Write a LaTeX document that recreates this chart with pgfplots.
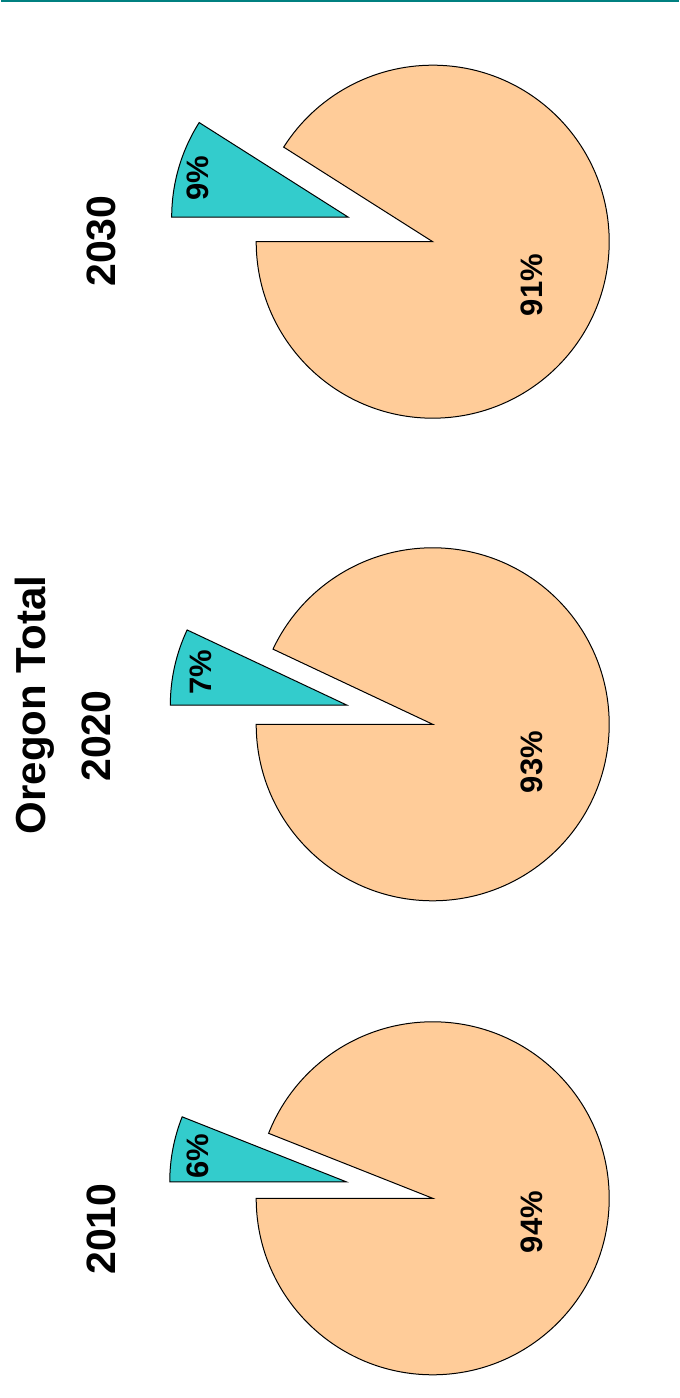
\documentclass[border=0pt]{standalone}
\usepackage{fontspec}
\setmainfont{Liberation Sans}
\usepackage{pgfplots}
\pgfplotsset{compat=1.18}
\definecolor{pieorange}{RGB}{255,204,153}
\definecolor{pieteal}{RGB}{51,204,204}
\definecolor{topline}{RGB}{0,128,128}
\begin{document}
\begin{tikzpicture}
\begin{axis}[x=0.5pt, y=0.5pt, xmin=0, xmax=678, ymin=0, ymax=1398,
  hide axis, clip=false]
\path (axis cs:0,0) rectangle (axis cs:678,1398);
\draw[topline, line width=1pt] (axis cs:0,1397) -- (axis cs:678,1397);
% 2010: 6% / 94%
\draw[fill=pieorange, line width=0.5pt] (axis cs:431.7,199.7) -- ++(180:88.25pt)
  arc[start angle=180, end angle={180+3.6*94}, radius=88.25pt] -- cycle;
\draw[fill=pieteal, line width=0.5pt] (axis cs:431.7,199.7) ++({180-1.8*6}:44pt) coordinate (a1)
  -- ++(180:88.25pt) arc[start angle=180, end angle={180-3.6*6}, radius=88.25pt] -- cycle;
% 2020: 7% / 93%
\draw[fill=pieorange, line width=0.5pt] (axis cs:431.7,673.7) -- ++(180:88.25pt)
  arc[start angle=180, end angle={180+3.6*93}, radius=88.25pt] -- cycle;
\draw[fill=pieteal, line width=0.5pt] (axis cs:431.7,673.7) ++({180-1.8*7}:44pt)
  -- ++(180:88.25pt) arc[start angle=180, end angle={180-3.6*7}, radius=88.25pt] -- cycle;
% 2030: 9% / 91%
\draw[fill=pieorange, line width=0.5pt] (axis cs:431.7,1156.3) -- ++(180:88.25pt)
  arc[start angle=180, end angle={180+3.6*91}, radius=88.25pt] -- cycle;
\draw[fill=pieteal, line width=0.5pt] (axis cs:431.7,1156.3) ++({180-1.8*9}:44pt)
  -- ++(180:88.25pt) arc[start angle=180, end angle={180-3.6*9}, radius=88.25pt] -- cycle;
% percent labels
\node[rotate=90, font=\fontsize{15.5}{18}\selectfont\bfseries] at (axis cs:197,242) {6\%};
\node[rotate=90, font=\fontsize{15.5}{18}\selectfont\bfseries] at (axis cs:531,176) {94\%};
\node[rotate=90, font=\fontsize{15.5}{18}\selectfont\bfseries] at (axis cs:200,726) {7\%};
\node[rotate=90, font=\fontsize{15.5}{18}\selectfont\bfseries] at (axis cs:531,636) {93\%};
\node[rotate=90, font=\fontsize{15.5}{18}\selectfont\bfseries] at (axis cs:197,1220) {9\%};
\node[rotate=90, font=\fontsize{15.5}{18}\selectfont\bfseries] at (axis cs:531,1113) {91\%};
% titles
\node[rotate=90, font=\fontsize{20.5}{24}\selectfont\bfseries] at (axis cs:100,169) {2010};
\node[rotate=90, font=\fontsize{20.5}{24}\selectfont\bfseries] at (axis cs:95,662) {2020};
\node[rotate=90, font=\fontsize{20.5}{24}\selectfont\bfseries] at (axis cs:100,1157) {2030};
\node[rotate=90, font=\fontsize{21}{24}\selectfont\bfseries, anchor=base] at (axis cs:44,693) {Oregon Total};
\end{axis}
\end{tikzpicture}
\end{document}
